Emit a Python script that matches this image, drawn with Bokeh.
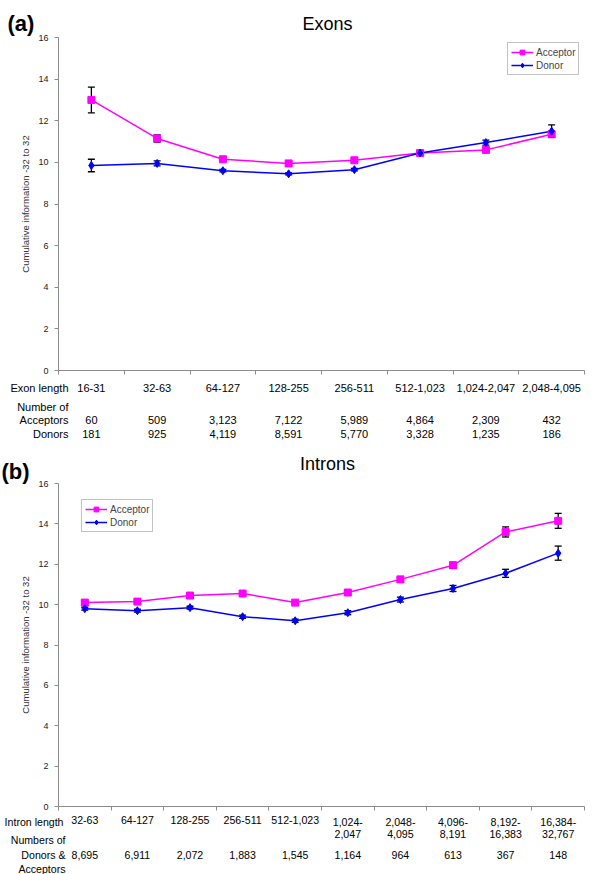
from bokeh.plotting import figure
from bokeh.models import (ColumnDataSource, Range1d, FixedTicker, Whisker, TeeHead,
                          Legend, LegendItem)
from bokeh.layouts import column
from bokeh.embed import file_html
from bokeh.resources import INLINE
from bokeh.core.properties import value

# ---------------- data : (a) Exons ----------------
exon_lengths = ["16-31", "32-63", "64-127", "128-255", "256-511",
                "512-1,023", "1,024-2,047", "2,048-4,095"]
exon_acceptor = [13.0, 11.15, 10.15, 9.95, 10.1, 10.45, 10.6, 11.35]
exon_acceptor_err = [0.62, 0.17, 0.08, 0.07, 0.07, 0.07, 0.08, 0.15]
exon_donor = [9.85, 9.95, 9.6, 9.45, 9.65, 10.45, 10.95, 11.5]
exon_donor_err = [0.3, 0.12, 0.06, 0.05, 0.06, 0.07, 0.12, 0.3]
exon_n_acceptors = ["60", "509", "3,123", "7,122", "5,989", "4,864", "2,309", "432"]
exon_n_donors = ["181", "925", "4,119", "8,591", "5,770", "3,328", "1,235", "186"]

# ---------------- data : (b) Introns ----------------
intron_lengths = ["32-63", "64-127", "128-255", "256-511", "512-1,023",
                  "1,024-\n2,047", "2,048-\n4,095", "4,096-\n8,191",
                  "8,192-\n16,383", "16,384-\n32,767"]
intron_acceptor = [10.1, 10.15, 10.45, 10.55, 10.1, 10.6, 11.25, 11.95, 13.6, 14.15]
intron_acceptor_err = [0.08, 0.08, 0.08, 0.08, 0.08, 0.1, 0.1, 0.15, 0.25, 0.37]
intron_donor = [9.8, 9.7, 9.85, 9.4, 9.2, 9.6, 10.25, 10.8, 11.55, 12.55]
intron_donor_err = [0.07, 0.07, 0.07, 0.08, 0.08, 0.1, 0.12, 0.15, 0.2, 0.35]
intron_n = ["8,695", "6,911", "2,072", "1,883", "1,545", "1,164", "964", "613", "367", "148"]

y_ticks = [0, 2, 4, 6, 8, 10, 12, 14, 16]
y_label = "Cumulative information -32 to 32"

ACC_COLOR = "#FF00FF"
DON_COLOR = "#0000FF"
AXIS_COLOR = "#8c8c8c"
FONT = "Liberation Sans"
FIG_W = 600
AX_LEFT = 58      # pixel column of the y axis
AX_RIGHT = 584    # pixel column where the x axis ends
Y_MAX = 16


class Panel:
    """A figure whose frame is the whole canvas; axes sit at fixed data locations."""

    def __init__(self, cats, height, ax_top, ax_bottom):
        n = len(cats)
        self.n = n
        self.ux = (AX_RIGHT - AX_LEFT) / n          # px per x unit
        self.uy = (ax_bottom - ax_top) / Y_MAX       # px per y unit
        self.ax_bottom = ax_bottom
        xr = Range1d(-AX_LEFT / self.ux, n + (FIG_W - AX_RIGHT) / self.ux)
        yr = Range1d(-(height - ax_bottom) / self.uy, Y_MAX + ax_top / self.uy)
        p = figure(width=FIG_W, height=height, x_range=xr, y_range=yr,
                   output_backend="svg", toolbar_location=None,
                   min_border_left=0, min_border_right=0,
                   min_border_top=0, min_border_bottom=0)
        p.outline_line_color = None
        p.xgrid.visible = False
        p.ygrid.visible = False
        p.background_fill_color = "white"
        p.border_fill_color = "white"

        yax = p.yaxis[0]
        yax.fixed_location = 0
        yax.bounds = (0, Y_MAX)
        yax.ticker = FixedTicker(ticks=y_ticks)
        yax.axis_line_color = AXIS_COLOR
        yax.major_tick_line_color = AXIS_COLOR
        yax.major_tick_in = 0
        yax.major_tick_out = 4
        yax.minor_tick_line_color = None
        yax.major_label_text_font = FONT
        yax.major_label_text_font_size = "9px"
        yax.major_label_text_color = "#222222"
        yax.major_label_standoff = 6
        yax.axis_label = y_label
        yax.axis_label_text_font = FONT
        yax.axis_label_text_font_size = "9.5px"
        yax.axis_label_text_font_style = "normal"
        yax.axis_label_text_color = "#333333"
        yax.axis_label_standoff = 4

        xax = p.xaxis[0]
        xax.fixed_location = 0
        xax.bounds = (0, n)
        xax.ticker = FixedTicker(ticks=list(range(n + 1)))
        xax.major_label_overrides = {i: "" for i in range(n + 1)}
        xax.axis_line_color = AXIS_COLOR
        xax.major_tick_line_color = AXIS_COLOR
        xax.major_tick_in = 0
        xax.major_tick_out = 4
        xax.minor_tick_line_color = None

        self.p = p
        self.xs = [i + 0.5 for i in range(n)]

    # pixel (within this figure) -> data coordinates
    def X(self, px):
        return (px - AX_LEFT) / self.ux

    def Y(self, py):
        return (self.ax_bottom - py) / self.uy

    def series(self, acc, acc_err, don, don_err, legend_xy):
        p = self.p
        src = ColumnDataSource(dict(
            x=self.xs, acc=acc, don=don,
            acc_lo=[a - e for a, e in zip(acc, acc_err)],
            acc_hi=[a + e for a, e in zip(acc, acc_err)],
            don_lo=[d - e for d, e in zip(don, don_err)],
            don_hi=[d + e for d, e in zip(don, don_err)],
        ))
        acc_line = p.line("x", "acc", source=src, line_color=ACC_COLOR, line_width=1.5)
        don_line = p.line("x", "don", source=src, line_color=DON_COLOR, line_width=1.5)
        for lo, hi in (("acc_lo", "acc_hi"), ("don_lo", "don_hi")):
            p.add_layout(Whisker(
                source=src, base="x", lower=lo, upper=hi,
                line_color="black", line_width=1.3,
                upper_head=TeeHead(size=7, line_color="black", line_width=1.3),
                lower_head=TeeHead(size=7, line_color="black", line_width=1.3)))
        acc_pts = p.scatter("x", "acc", source=src, marker="square", size=7,
                            fill_color=ACC_COLOR, line_color=ACC_COLOR)
        don_pts = p.scatter("x", "don", source=src, marker="diamond", size=8,
                            fill_color=DON_COLOR, line_color=DON_COLOR)
        legend = Legend(items=[LegendItem(label="Acceptor", renderers=[acc_line, acc_pts]),
                               LegendItem(label="Donor", renderers=[don_line, don_pts])],
                        location=legend_xy, margin=0,
                        border_line_color="#888888", border_line_width=1,
                        padding=3, spacing=1, glyph_width=22, glyph_height=12,
                        label_height=12, label_standoff=3,
                        label_text_font=FONT, label_text_font_size="10px",
                        background_fill_color="white", background_fill_alpha=1)
        self.p.add_layout(legend)

    def texts(self, xs, ys, texts, size, align="center", baseline="middle", style="normal"):
        s = ColumnDataSource(dict(x=xs, y=ys, t=texts))
        self.p.text("x", "y", text="t", source=s, text_align=align,
                    text_baseline=baseline, text_font=value(FONT),
                    text_font_size=value(size), text_font_style=style,
                    text_line_height=1.0, text_color="black")

    def row(self, texts, py, size, baseline="middle"):
        self.texts(self.xs, [self.Y(py)] * len(texts), texts, size, baseline=baseline)


# ---------------- panel (a) : page rows 0..440 ----------------
A = Panel(exon_lengths, height=440, ax_top=37, ax_bottom=370)
A.series(exon_acceptor, exon_acceptor_err, exon_donor, exon_donor_err,
         legend_xy=(507, 440 - 75))
A.texts([A.X(7)], [A.Y(23)], ["(a)"], "22px", align="left", style="bold")
A.texts([A.X(327)], [A.Y(23)], ["Exons"], "18px")
TA = "11px"
A.row(exon_lengths, 387, TA)
A.row(exon_n_acceptors, 419, TA)
A.row(exon_n_donors, 433, TA)
A.texts([A.X(68)] * 4, [A.Y(387), A.Y(406), A.Y(419), A.Y(433)],
        ["Exon length", "Number of", "Acceptors", "Donors"], TA, align="right")

# ---------------- panel (b) : page rows 440..874 ----------------
OFF = 440
B = Panel(intron_lengths, height=434, ax_top=483 - OFF, ax_bottom=806 - OFF)
B.series(intron_acceptor, intron_acceptor_err, intron_donor, intron_donor_err,
         legend_xy=(81, 434 - (532 - OFF)))
B.texts([B.X(1)], [B.Y(471 - OFF)], ["(b)"], "22px", align="left", style="bold")
B.texts([B.X(327)], [B.Y(463 - OFF)], ["Introns"], "18px")
TB = "10.6px"
B.row(intron_lengths, 815 - OFF, TB, baseline="top")
B.row(intron_n, 854 - OFF, TB)
B.texts([B.X(63), B.X(65), B.X(65), B.X(65)],
        [B.Y(821 - OFF), B.Y(839 - OFF), B.Y(854 - OFF), B.Y(868 - OFF)],
        ["Intron length", "Numbers of", "Donors &", "Acceptors"], TB, align="right")

layout = column(A.p, B.p, spacing=0)
open("out.html", "w").write(file_html(layout, INLINE))
